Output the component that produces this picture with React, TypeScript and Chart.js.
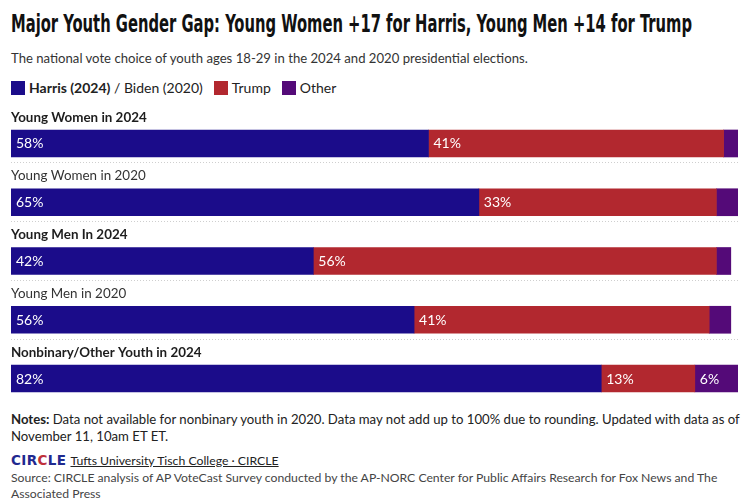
import React, { useEffect, useLayoutEffect, useRef } from "react";
import { Chart, registerables } from "chart.js";

Chart.register(...registerables);

// ---- data ----
const categories = [
  "Young Women in 2024",
  "Young Women in 2020",
  "Young Men In 2024",
  "Young Men in 2020",
  "Nonbinary/Other Youth in 2024",
];
const boldRows = [true, false, true, false, true];
const harrisBiden = [58, 65, 42, 56, 82];
const trump = [41, 33, 56, 41, 13];
const other = [2, 3, 2, 3, 6];
const seriesNames = ["Harris (2024) / Biden (2020)", "Trump", "Other"];
const seriesColors = ["#1b0c8a", "#b2282f", "#540a78"];
const axisMax = 101;

const FONT = "Lato, 'Open Sans', sans-serif";

const rowPlugin = {
  id: "rowLabels",
  afterDatasetsDraw(chart: any) {
    const ctx = chart.ctx;
    const area = chart.chartArea;
    const yScale = chart.scales.y;
    const half = 13.5;
    ctx.save();
    categories.forEach((label, i) => {
      const yc = yScale.getPixelForValue(i);
      ctx.font = `${boldRows[i] ? "bold " : ""}13.4px ${FONT}`;
      ctx.fillStyle = boldRows[i] ? "#1d1d1d" : "#333333";
      ctx.textBaseline = "alphabetic";
      ctx.textAlign = "left";
      ctx.fillText(label, area.left, yc - half - 8.3);
      if (i < categories.length - 1) {
        ctx.strokeStyle = "#cfcfcf";
        ctx.lineWidth = 1;
        ctx.setLineDash([1, 2]);
        const ly = Math.round(yc + half + 5.5) + 0.5;
        ctx.beginPath();
        ctx.moveTo(area.left, ly);
        ctx.lineTo(area.right, ly);
        ctx.stroke();
        ctx.setLineDash([]);
      }
    });
    ctx.font = `14px ${FONT}`;
    ctx.fillStyle = "#ffffff";
    chart.data.datasets.forEach((ds: any, d: number) => {
      const meta = chart.getDatasetMeta(d);
      meta.data.forEach((el: any, i: number) => {
        const w = Math.abs(el.x - el.base);
        if (w > 30) {
          ctx.fillText(`${ds.data[i]}%`, Math.min(el.x, el.base) + 5, el.y + 5);
        }
      });
    });
    ctx.restore();
  },
};

function BarChart() {
  const ref = useRef<HTMLCanvasElement>(null);
  useEffect(() => {
    if (!ref.current) return;
    const chart = new Chart(ref.current, {
      type: "bar",
      data: {
        labels: categories,
        datasets: [harrisBiden, trump, other].map((data, k) => ({
          label: seriesNames[k],
          data,
          backgroundColor: seriesColors[k],
          borderWidth: 0,
          barThickness: 27,
        })),
      },
      options: {
        indexAxis: "y",
        animation: false,
        responsive: true,
        maintainAspectRatio: false,
        layout: { padding: { left: 11, right: 5, top: 14.1, bottom: 2.1 } },
        scales: {
          x: { stacked: true, min: 0, max: axisMax, display: false },
          y: { stacked: true, display: false },
        },
        plugins: {
          legend: { display: false },
          tooltip: { enabled: false },
          title: { display: false },
        },
      },
      plugins: [rowPlugin],
    });
    return () => chart.destroy();
  }, []);
  return (
    <div style={{ position: "absolute", left: 0, top: 100, width: 743, height: 310 }}>
      <canvas ref={ref} />
    </div>
  );
}

function Swatch({ color }: { color: string }) {
  return (
    <span
      style={{
        display: "inline-block",
        width: 14,
        height: 14,
        background: color,
        marginRight: 4,
        verticalAlign: "top",
      }}
    />
  );
}

export default function App() {
  const titleRef = useRef<HTMLSpanElement>(null);
  const subRef = useRef<HTMLSpanElement>(null);
  const notesRef = useRef<HTMLSpanElement>(null);
  const notesBox = useRef<HTMLDivElement>(null);
  const linkRef = useRef<HTMLSpanElement>(null);
  const srcRef = useRef<HTMLSpanElement>(null);
  const srcBox = useRef<HTMLDivElement>(null);

  useLayoutEffect(() => {
    const el = titleRef.current;
    if (el) {
      el.style.transform = "none";
      const w = el.getBoundingClientRect().width;
      if (w > 0) el.style.transform = `scaleX(${681 / w})`;
    }
    const fits: [HTMLElement | null, HTMLElement | null, number, number][] = [
      [subRef.current, subRef.current, 517, 14],
      [notesRef.current, notesBox.current, 729, 13],
      [linkRef.current, linkRef.current, 208, 13],
      [srcRef.current, srcBox.current, 707, 13],
    ];
    fits.forEach(([m, box, target, base]) => {
      if (!m || !box) return;
      let fs = base;
      for (let k = 0; k < 3; k++) {
        box.style.fontSize = `${fs}px`;
        const w = m.getBoundingClientRect().width;
        if (w > 0) fs = (fs * target) / w;
      }
      box.style.fontSize = `${fs}px`;
    });
  }, []);

  const abs = (top: number, extra: React.CSSProperties = {}): React.CSSProperties => ({
    position: "absolute",
    left: 11,
    top,
    whiteSpace: "nowrap",
    ...extra,
  });

  return (
    <div
      style={{
        position: "fixed",
        left: 0,
        top: 0,
        width: 743,
        height: 504,
        background: "#fff",
        fontFamily: FONT,
        overflow: "hidden",
      }}
    >
      <div style={abs(10.7, { fontSize: 24, lineHeight: "24px", color: "#111" })}>
        <span
          ref={titleRef}
          style={{
            display: "inline-block",
            fontFamily: "'Liberation Sans Narrow', 'DejaVu Sans Condensed', sans-serif",
            fontWeight: 700,
            transformOrigin: "left center",
          }}
        >
          Major Youth Gender Gap: Young Women +17 for Harris, Young Men +14 for Trump
        </span>
      </div>
      <div style={abs(49.6, { lineHeight: "14px", color: "#333" })}>
        <span ref={subRef} style={{ display: "inline-block", fontSize: 14 }}>
          The national vote choice of youth ages 18-29 in the 2024 and 2020 presidential elections.
        </span>
      </div>
      <div style={abs(81, { fontSize: 14, lineHeight: "14px", color: "#222", display: "flex", alignItems: "center" })}>
        <Swatch color={seriesColors[0]} />
        <span>
          <b>Harris (2024)</b> / Biden (2020)
        </span>
        <span style={{ width: 11 }} />
        <Swatch color={seriesColors[1]} />
        <span>{seriesNames[1]}</span>
        <span style={{ width: 11 }} />
        <Swatch color={seriesColors[2]} />
        <span>{seriesNames[2]}</span>
      </div>

      <BarChart />

      <div ref={notesBox} style={abs(411, { fontSize: 13, lineHeight: "17px", color: "#222" })}>
        <span ref={notesRef} style={{ display: "inline-block" }}>
          <b>Notes:</b> Data not available for nonbinary youth in 2020. Data may not add up to 100% due to rounding. Updated with data as of
        </span>
        <br />
        November 11, 10am ET ET.
      </div>
      <div style={abs(452.5, { fontSize: 13, lineHeight: "14px", color: "#222", display: "flex", alignItems: "baseline" })}>
        <span
          style={{
            fontFamily: "'DejaVu Sans', sans-serif",
            fontWeight: 700,
            fontSize: 13.5,
            letterSpacing: 0.4,
            color: "#1f2a8f",
            marginRight: 4,
          }}
        >
          CIR<span style={{ color: "#c0303a" }}>C</span>LE
        </span>
        <span ref={linkRef} style={{ textDecoration: "underline", fontSize: 13 }}>
          Tufts University Tisch College · CIRCLE
        </span>
      </div>
      <div ref={srcBox} style={abs(470, { fontSize: 13, lineHeight: "16px", color: "#444" })}>
        <span ref={srcRef} style={{ display: "inline-block" }}>
          Source: CIRCLE analysis of AP VoteCast Survey conducted by the AP-NORC Center for Public Affairs Research for Fox News and The
        </span>
        <br />
        Associated Press
      </div>
    </div>
  );
}
